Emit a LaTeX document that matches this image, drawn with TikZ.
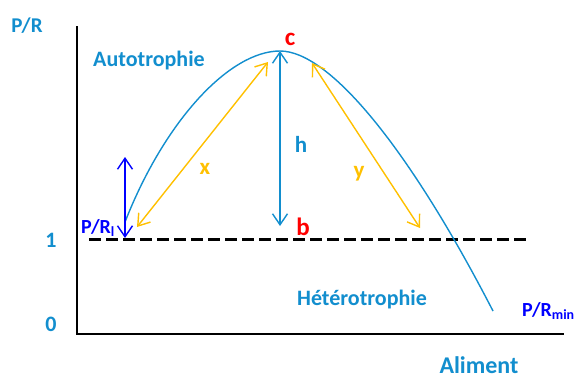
\documentclass[tikz,border=0pt]{standalone}
\usepackage{fontspec}
\setmainfont{Carlito}
\usetikzlibrary{arrows.meta}
\definecolor{skyblue}{RGB}{18,142,206}
\definecolor{gold}{RGB}{255,192,0}
\begin{document}
\begin{tikzpicture}[x=1pt,y=-1pt,
  lab/.style={font=\bfseries\fontsize{21}{21}\selectfont,text=skyblue,inner sep=0pt,anchor=base},
  redmark/.style={font=\bfseries\fontsize{25}{25}\selectfont,text=red,inner sep=0pt,anchor=base},
  barbs/.style={line width=1.4pt,{Straight Barb[length=11pt,width=15pt]}-{Straight Barb[length=11pt,width=15pt]}}]
  \useasboundingbox (0,0) rectangle (577,380);
  % axes
  \coordinate (top) at (77,26);
  \coordinate (origin) at (77,334);
  \coordinate (right) at (564,334);
  \draw[line width=1.8pt] (top) -- (origin) -- (right);
  % P/R = 1 level
  \coordinate (one1) at (89,239);
  \coordinate (one2) at (530,239);
  \draw[line width=3pt,dash pattern=on 12pt off 5pt] (one1) -- (one2);
  % response curve
  \coordinate (start) at (125,222);
  \coordinate (peak) at (280,51);
  \coordinate (finish) at (493,311);
  \draw[skyblue,line width=1.4pt] (start) .. controls (165,120) and (230,51) .. (peak)
    .. controls (330,51) and (410,150) .. (finish);
  % dimensions
  \coordinate (l1) at (125,157);
  \coordinate (l2) at (125,238);
  \draw[barbs,blue] (l1) -- (l2);
  \coordinate (hb) at (280,226);
  \draw[barbs,skyblue] (peak) -- (hb);
  \coordinate (x1) at (137,227);
  \coordinate (x2) at (268,62);
  \draw[barbs,gold] (x1) -- (x2);
  \coordinate (y1) at (312,63);
  \coordinate (y2) at (420,228);
  \draw[barbs,gold] (y1) -- (y2);
  % labels
  \node[lab] (ylab) at (27,32) {P/R};
  \node[lab,anchor=base west,font=\bfseries\fontsize{22}{22}\selectfont] (auto) at (93,66) {Autotrophie};
  \node[redmark] (c) at (290,45) {c};
  \node[redmark] (b) at (303,235) {b};
  \node[lab,font=\bfseries\fontsize{23}{23}\selectfont] (h) at (301,152) {h};
  \node[lab,text=gold,font=\bfseries\fontsize{23}{23}\selectfont] (x) at (205,174) {x};
  \node[lab,text=gold,font=\bfseries\fontsize{23}{23}\selectfont] (y) at (359,177) {y};
  \node[lab,text=blue,anchor=base west,font=\bfseries\fontsize{20}{20}\selectfont] (prl) at (81,233) {P/R\textsubscript{l}};
  \node[lab,font=\bfseries\fontsize{22}{22}\selectfont] (v1) at (51,247) {1};
  \node[lab,font=\bfseries\fontsize{22}{22}\selectfont] (v0) at (51,331) {0};
  \node[lab,font=\bfseries\fontsize{22}{22}\selectfont] (hetero) at (362,305) {Hétérotrophie};
  \node[lab,text=blue,anchor=base west,font=\bfseries\fontsize{20}{20}\selectfont] (prmin) at (522,316) {P/R\textsubscript{min}};
  \node[lab,font=\bfseries\fontsize{24}{24}\selectfont] (food) at (479,373) {Aliment};
\end{tikzpicture}
\end{document}
